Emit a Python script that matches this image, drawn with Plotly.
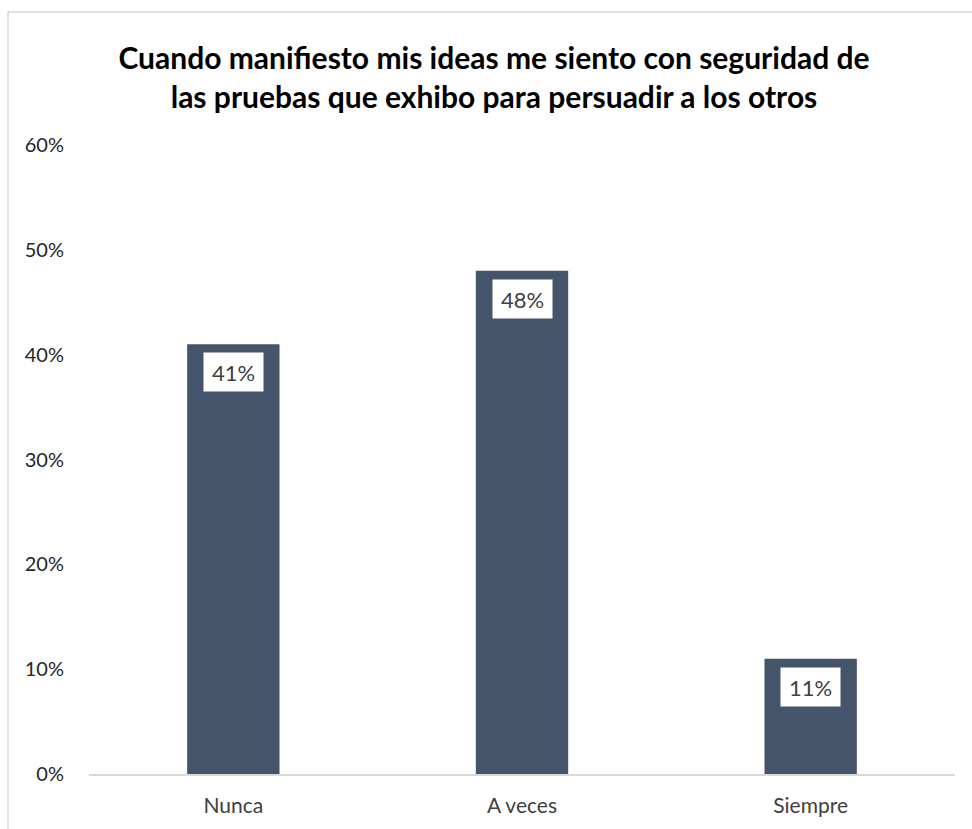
import plotly.graph_objects as go

# Survey responses
categories = ["Nunca", "A veces", "Siempre"]
values = [0.41, 0.48, 0.11]
tick_vals = [0, 0.1, 0.2, 0.3, 0.4, 0.5, 0.6]
tick_text = ["0%", "10%", "20%", "30%", "40%", "50%", "60%"]
title_lines = [
    "Cuando manifiesto mis ideas me siento con seguridad de",
    "las pruebas que exhibo para persuadir a los otros",
]

BAR_COLOR = "#44546A"
FONT = "Lato"

W, H = 972, 829
L, R, T, B = 89, 17, 145, 55

fig = go.Figure(
    go.Bar(
        x=categories,
        y=values,
        marker=dict(color=BAR_COLOR, line=dict(width=0)),
        width=0.32,
        hoverinfo="skip",
    )
)

# Value labels in white boxes just below the top of each bar
for c, v in zip(categories, values):
    fig.add_annotation(
        x=c, y=v, xref="x", yref="y",
        text=f"{round(v * 100)}%",
        showarrow=False,
        yanchor="top", yshift=-8,
        bgcolor="white",
        width=55, height=34, borderpad=2,
        font=dict(family=FONT, size=22, color="#404040"),
    )

# Chart frame (light gray border)
pw, ph = W - L - R, H - T - B
fig.add_shape(
    type="rect", xref="paper", yref="paper",
    x0=(8 - L) / pw, x1=(W + 5 - L) / pw,
    y0=-(B + 5) / ph, y1=(H - B - 12) / ph,
    line=dict(color="#D9D9D9", width=1.5),
    fillcolor="rgba(0,0,0,0)",
    layer="below",
)

fig.update_layout(
    width=W, height=H,
    margin=dict(l=L, r=R, t=T, b=B),
    paper_bgcolor="white",
    plot_bgcolor="white",
    showlegend=False,
    title=dict(
        text="<br>".join(title_lines),
        x=494 / W, xanchor="center",
        y=1 - 69 / H, yanchor="middle", yref="container",
        font=dict(family=FONT, size=30, color="black", weight="bold"),
    ),
    xaxis=dict(
        showline=True, linecolor="#D9D9D9", linewidth=1.5,
        ticks="", showgrid=False, ticklabelstandoff=12,
        tickfont=dict(family=FONT, size=21, color="#404040"),
        range=[-0.5, 2.5],
    ),
    yaxis=dict(
        range=[0, 0.6],
        tickvals=tick_vals, ticktext=tick_text,
        showgrid=False, zeroline=False, showline=False,
        ticks="", ticklabelstandoff=24,
        tickfont=dict(family=FONT, size=20, color="#262626"),
    ),
)

fig.write_html("out.html")
